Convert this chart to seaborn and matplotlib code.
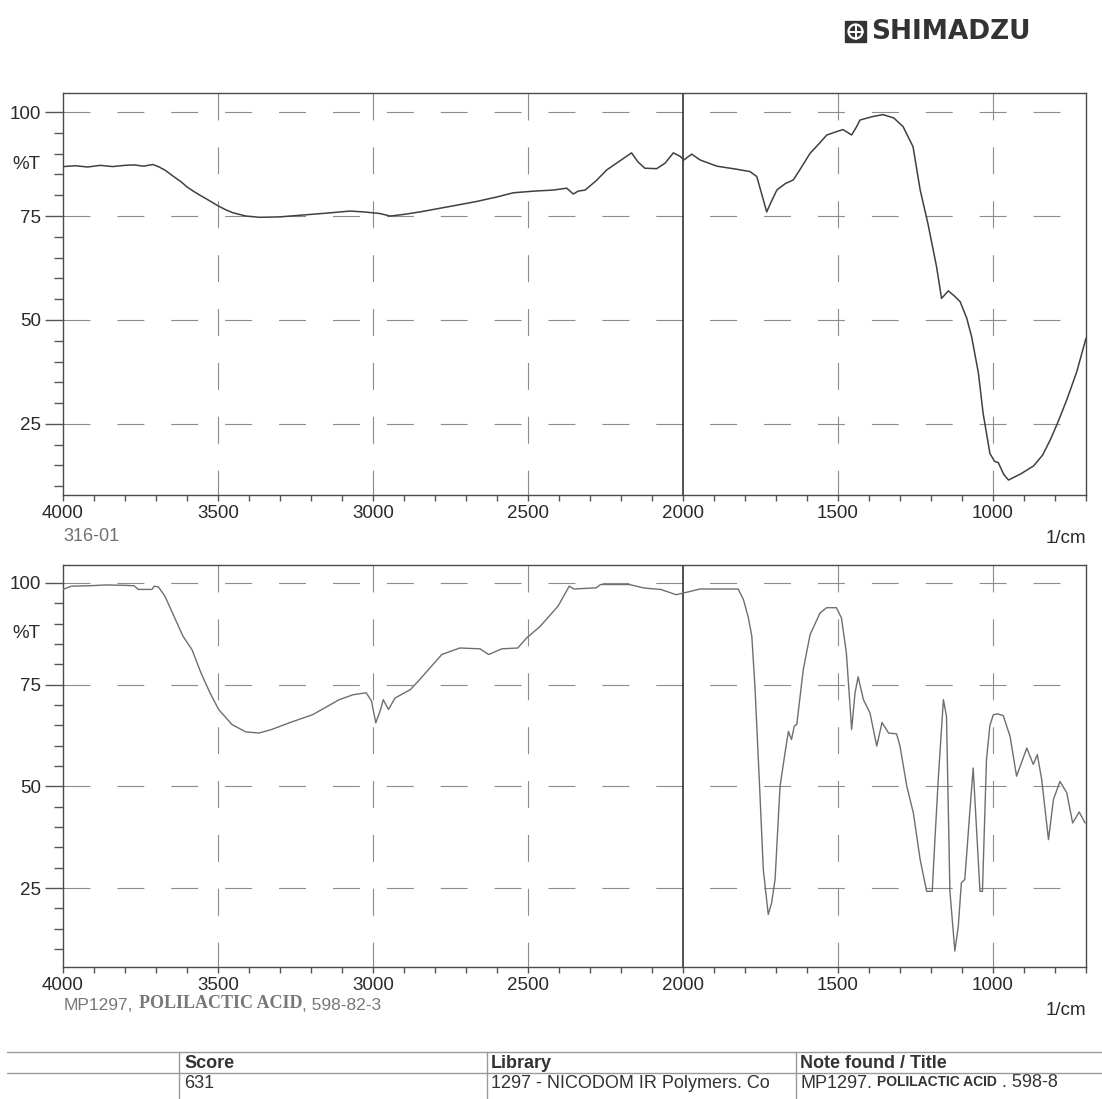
import numpy as np
import pandas as pd
import matplotlib
matplotlib.use("Agg")
import matplotlib.pyplot as plt
import seaborn as sns
from matplotlib.ticker import MultipleLocator
from matplotlib.lines import Line2D
from matplotlib.patches import Rectangle, Ellipse

# sample spectrum "316-01" (wavenumber 1/cm, %T)
sample_wn = [4000, 3960, 3920, 3880, 3840, 3800, 3770, 3740, 3710, 3690, 3670, 3645,
             3620, 3600, 3580, 3558, 3530, 3503, 3475, 3452, 3410, 3365, 3300, 3235,
             3150, 3074, 3030, 3003, 2977, 2945, 2900, 2848, 2760, 2666, 2600, 2547,
             2480, 2419, 2375, 2354, 2338, 2316, 2280, 2246, 2205, 2166, 2145, 2123,
             2085, 2058, 2031, 2010, 1997, 1972, 1945, 1891, 1830, 1784, 1762, 1745,
             1730, 1715, 1697, 1670, 1644, 1620, 1590, 1560, 1536, 1505, 1484, 1456,
             1440, 1429, 1390, 1355, 1320, 1290, 1258, 1235, 1210, 1182, 1166, 1144,
             1125, 1106, 1085, 1069, 1047, 1032, 1010, 995, 983, 965, 950, 910, 869,
             840, 815, 790, 762, 730, 700]
sample_t = [86.9, 87.1, 86.8, 87.2, 86.9, 87.2, 87.3, 87.0, 87.4, 86.8, 86.0, 84.6,
            83.3, 82.0, 81.0, 80.0, 78.8, 77.6, 76.5, 75.8, 75.0, 74.7, 74.8, 75.2,
            75.7, 76.2, 76.0, 75.8, 75.6, 75.0, 75.4, 76.0, 77.2, 78.5, 79.6, 80.6,
            81.0, 81.25, 81.7, 80.3, 81.0, 81.25, 83.5, 86.1, 88.2, 90.2, 88.0, 86.5,
            86.4, 87.7, 90.2, 89.4, 88.5, 89.9, 88.5, 87.0, 86.3, 85.7, 84.5, 80.0,
            76.0, 78.5, 81.3, 82.8, 83.7, 86.5, 90.1, 92.5, 94.5, 95.3, 95.8, 94.5,
            96.5, 98.1, 98.9, 99.4, 98.6, 96.5, 91.7, 81.3, 73.2, 62.8, 55.2, 57.0,
            55.8, 54.4, 50.5, 46.0, 37.2, 27.6, 17.9, 16.0, 15.7, 12.8, 11.5, 13.0, 14.9,
            17.5, 21.2, 25.5, 30.8, 37.5, 45.6]

# library spectrum "MP1297, POLILACTIC ACID"
ref_wn = [4000, 3973, 3916, 3860, 3800, 3771, 3757, 3713, 3706, 3692, 3671, 3642,
          3613, 3584, 3555, 3526, 3498, 3455, 3411, 3368, 3326, 3267, 3195, 3109,
          3065, 3022, 3005, 2991, 2975, 2967, 2950, 2929, 2879, 2850, 2778, 2720,
          2655, 2627, 2584, 2533, 2504, 2461, 2403, 2367, 2352, 2280, 2266, 2173,
          2129, 2106, 2072, 2022, 1999, 1945, 1822, 1805, 1789, 1778, 1768, 1752,
          1741, 1725, 1714, 1703, 1687, 1671, 1660, 1650, 1641, 1633, 1612, 1590,
          1558, 1537, 1505, 1489, 1473, 1456, 1445, 1435, 1418, 1397, 1375, 1358,
          1337, 1311, 1300, 1278, 1257, 1235, 1214, 1196, 1188, 1176, 1160, 1150,
          1139, 1123, 1112, 1102, 1091, 1075, 1064, 1056, 1042, 1034, 1021, 1010,
          999, 985, 967, 945, 924, 891, 870, 857, 843, 821, 805, 784, 762, 743,
          722, 703]
ref_t = [98.4, 99.2, 99.3, 99.5, 99.4, 99.3, 98.4, 98.4, 99.2, 99.0, 96.7, 91.8,
         86.9, 83.6, 77.9, 73.0, 68.9, 65.2, 63.4, 63.1, 64.0, 65.7, 67.6, 71.3,
         72.5, 73.0, 71.0, 65.6, 69.0, 71.3, 68.9, 71.7, 73.8, 76.2, 82.4, 84.0,
         83.8, 82.4, 83.8, 84.0, 86.5, 89.3, 94.3, 99.2, 98.5, 98.8, 99.6, 99.6,
         98.8, 98.6, 98.4, 97.1, 97.5, 98.5, 98.5, 95.9, 91.4, 86.9, 74.6, 48.4,
         29.6, 18.5, 21.4, 27.1, 50.0, 58.2, 63.5, 61.5, 64.8, 65.2, 78.7, 87.3,
         92.6, 93.9, 93.9, 91.4, 82.8, 64.0, 73.0, 76.9, 71.3, 68.1, 59.9, 65.7,
         63.1, 62.9, 59.9, 50.0, 43.5, 32.0, 24.2, 24.2, 36.0, 52.5, 71.3, 67.2,
         24.2, 9.5, 15.6, 26.3, 27.1, 43.5, 54.5, 43.5, 24.2, 24.2, 56.6, 65.0,
         67.6, 67.8, 67.4, 62.3, 52.5, 59.4, 55.4, 57.8, 51.7, 36.9, 46.8, 51.2,
         48.4, 41.0, 43.7, 41.0]

x_ticks = [4000, 3500, 3000, 2500, 2000, 1500, 1000]
grid_x = [3500, 3000, 2500, 1500, 1000]
y_ticks = [25, 50, 75, 100]
sample_name = "316-01"
table_header = ["Score", "Library", "Note found / Title"]
table_row = ["631", "1297 - NICODOM IR Polymers. Co"]

sns.set_style("white")
plt.rcParams["font.family"] = ["Liberation Sans", "DejaVu Sans"]
plt.rcParams["lines.scale_dashes"] = False

W, H = 1102, 1099
fig = plt.figure(figsize=(W / 100, H / 100), dpi=100)


def fx(px):
    return px / W


def fy(py):
    return 1 - py / H


ax1 = fig.add_axes([fx(63), fy(495), fx(1086) - fx(63), fy(93) - fy(495)])
ax2 = fig.add_axes([fx(63), fy(967), fx(1086) - fx(63), fy(565) - fy(967)])

df_sample = pd.DataFrame({"wn": sample_wn, "t": sample_t})
df_ref = pd.DataFrame({"wn": ref_wn, "t": ref_t})

sns.lineplot(data=df_sample, x="wn", y="t", ax=ax1, color="#404040", lw=1.1,
             sort=False, estimator=None, zorder=3)
sns.lineplot(data=df_ref, x="wn", y="t", ax=ax2, color="#6e6e6e", lw=1.0,
             sort=False, estimator=None, zorder=3)

TXT = "#2a2a2a"


def style_panel(ax, ylim):
    ax.set_xlim(4000, 700)
    ax.set_ylim(*ylim)
    ax.set_xlabel("")
    ax.set_ylabel("")
    ax.set_xticks(x_ticks)
    ax.set_xticklabels([str(v) for v in x_ticks])
    ax.xaxis.set_minor_locator(MultipleLocator(100))
    ax.set_yticks(y_ticks)
    ax.set_yticklabels([str(v) for v in y_ticks])
    ax.yaxis.set_minor_locator(MultipleLocator(5))
    ax.tick_params(axis="x", which="both", direction="out", length=4, width=1,
                   color="#555555", labelsize=13.5, labelcolor=TXT, pad=3.5,
                   bottom=True)
    ax.tick_params(axis="y", which="major", direction="out", length=13, width=1,
                   color="#555555", labelsize=13.5, labelcolor=TXT, pad=2.5,
                   left=True)
    ax.tick_params(axis="y", which="minor", direction="out", length=6.5, width=1,
                   color="#555555", left=True)
    for sp in ax.spines.values():
        sp.set_color("#4a4a4a")
        sp.set_linewidth(1.0)
    # dashed grid like the instrument print-out
    for v in y_ticks:
        ax.plot([0, 1], [v, v], transform=ax.get_yaxis_transform(),
                ls=(0, (19.4, 19.4)), lw=0.8, color="#8c8c8c", zorder=1)
    for v in grid_x:
        ax.plot([v, v], [1, 0], transform=ax.get_xaxis_transform(),
                ls=(0, (19.4, 19.4)), lw=0.8, color="#8c8c8c", zorder=1)
    ax.axvline(2000, color="#222222", lw=1.1, zorder=2)
    ax.annotate("%T", xy=(0, 87.5), xycoords=("axes fraction", "data"),
                xytext=(-16.5, 0), textcoords="offset points", ha="right",
                va="center", fontsize=13.5, color=TXT)
    ax.text(1, -0.108, "1/cm", transform=ax.transAxes, ha="right", va="center",
            fontsize=13.5, color=TXT)


style_panel(ax1, (7.9, 104.6))
style_panel(ax2, (5.6, 104.4))

ax1.text(0, -0.082, sample_name, transform=ax1.transAxes, ha="left", va="top",
         fontsize=13, color="#707070")

# library label with mixed fonts
t1 = fig.text(fx(64), fy(1005), "MP1297,", fontsize=12.5, color="#777777",
              va="center")
a2 = ax2.annotate("POLILACTIC ACID", xy=(1, 0), xycoords=t1, xytext=(4, 0),
                  textcoords="offset points", va="bottom", fontsize=13,
                  color="#777777", family="Liberation Serif", weight="bold",
                  annotation_clip=False)
ax2.annotate(", 598-82-3", xy=(1, 0), xycoords=a2, xytext=(0, 0),
             textcoords="offset points", va="bottom", fontsize=12.5, color="#777777",
             annotation_clip=False)

# result table
for y in [1052, 1073]:
    fig.add_artist(Line2D([fx(7), 1], [fy(y), fy(y)], color="#9a9a9a", lw=1.0))
for x in [179, 487, 796]:
    fig.add_artist(Line2D([fx(x), fx(x)], [fy(1052), 0], color="#9a9a9a", lw=1.0))
for x, label in zip([184, 491, 800], table_header):
    fig.text(fx(x), fy(1064), label, fontsize=13, weight="bold", color="#333333",
             va="center")
fig.text(fx(184), fy(1084), table_row[0], fontsize=13, color="#333333", va="center")
fig.text(fx(491), fy(1084), table_row[1], fontsize=13, color="#333333", va="center")
r1 = fig.text(fx(800), fy(1084), "MP1297.", fontsize=13, color="#333333", va="center")
r2 = ax2.annotate("POLILACTIC ACID", xy=(1, 0.2), xycoords=r1, xytext=(4, 0),
                  textcoords="offset points", va="bottom", fontsize=10,
                  weight="bold", color="#333333", annotation_clip=False)
ax2.annotate(" . 598-8", xy=(1, 0), xycoords=r2, xytext=(0, -1.5),
             textcoords="offset points", va="bottom", fontsize=13, color="#333333",
             annotation_clip=False)

# Shimadzu logo
fig.add_artist(Rectangle((fx(845), fy(42)), fx(21), 21 / H, color="#333333"))
fig.add_artist(Ellipse((fx(855.5), fy(31.5)), 14 / W, 14 / H, fill=False,
                       edgecolor="white", lw=1.6))
fig.add_artist(Line2D([fx(848.5), fx(862.5)], [fy(31.5), fy(31.5)], color="white", lw=1.4))
fig.add_artist(Line2D([fx(855.5), fx(855.5)], [fy(24.5), fy(38.5)], color="white", lw=1.4))
fig.text(fx(871), fy(32), "SHIMADZU", fontsize=19, weight="bold",
         family="DejaVu Sans", color="#333333", va="center")

fig.savefig("out.png", dpi=100, facecolor="white")
